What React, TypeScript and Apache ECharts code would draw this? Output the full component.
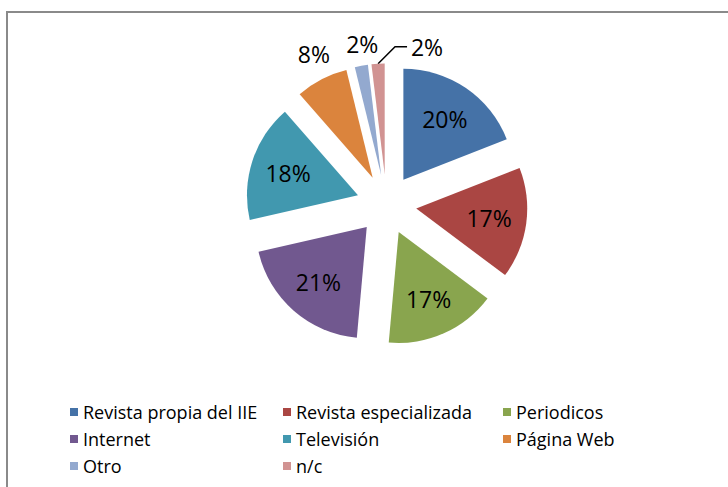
import React, { useEffect, useRef } from "react";
import * as echarts from "echarts";

const categories = [
  "Revista propia del IIE",
  "Revista especializada",
  "Periodicos",
  "Internet",
  "Televisión",
  "Página Web",
  "Otro",
  "n/c",
];
const values = [20, 17, 17, 21, 18, 8, 2, 2];
const colors = ["#4572A7", "#AA4643", "#89A54E", "#71588F", "#4198AF", "#DB843D", "#93A9CF", "#D19392"];
const legendColumns = [
  [0, 3, 6],
  [1, 4, 7],
  [2, 5],
];

// label placement tweaks for the small slices (styling only)
const outsideLabel: Record<number, { length: number; length2: number; distance: number; line: boolean }> = {
  5: { length: 28.5, length2: 0, distance: -21.5, line: false },
  6: { length: 22, length2: 0, distance: -21, line: false },
  7: { length: 17, length2: -30, distance: -36, line: true },
};

const FONT = "Open Sans";

export default function App() {
  const ref = useRef<HTMLDivElement>(null);
  useEffect(() => {
    if (!ref.current) return;
    const chart = echarts.init(ref.current, undefined, { renderer: "svg" });
    const center = [386.5, 204.5];
    const option: any = {
      animation: false,
      backgroundColor: "#fff",
      graphic: [
        {
          type: "rect",
          shape: { x: 7, y: 12, width: 900, height: 700 },
          style: { fill: "none", stroke: "#8a8a8a", lineWidth: 2 },
          silent: true,
        },
      ],
      legend: legendColumns.map((col, k) => ({
        orient: "vertical",
        left: [70, 283, 503][k],
        top: 403,
        padding: 0,
        itemWidth: 8,
        itemHeight: 8,
        itemGap: 9,
        icon: "rect",
        selectedMode: false,
        data: col.map((i) => categories[i]),
        textStyle: { fontFamily: FONT, fontSize: 18, lineHeight: 18, color: "#000" },
      })),
      series: [
        {
          type: "pie",
          center,
          radius: [0, 111],
          startAngle: 90,
          clockwise: true,
          selectedMode: "multiple",
          selectedOffset: 30,
          avoidLabelOverlap: false,
          silent: true,
          emphasis: { disabled: true },
          select: { itemStyle: { borderWidth: 0 } },
          label: { show: false },
          labelLine: { show: false },
          itemStyle: { borderWidth: 0 },
          data: categories.map((name, i) => ({
            name,
            value: values[i],
            selected: true,
            itemStyle: { color: colors[i] },
          })),
        },
        {
          type: "pie",
          center,
          radius: [30, 111],
          startAngle: 90,
          clockwise: true,
          selectedMode: "multiple",
          selectedOffset: 30,
          avoidLabelOverlap: false,
          silent: true,
          emphasis: { disabled: true },
          select: { itemStyle: { borderWidth: 0 } },
          itemStyle: { color: "rgba(0,0,0,0)", borderWidth: 0 },
          label: {
            show: true,
            position: "inside",
            formatter: "{c}%",
            fontFamily: FONT,
            fontSize: 23,
            color: "#000",
            textBorderWidth: 0,
          },
          labelLine: { show: false },
          data: categories.map((name, i) => {
            const o = outsideLabel[i];
            const item: any = { name, value: values[i], selected: true };
            if (o) {
              item.label = { position: "outside", distanceToLabelLine: o.distance };
              item.labelLine = {
                show: o.line,
                length: o.length,
                length2: o.length2,
                minTurnAngle: 135,
                maxSurfaceAngle: 180,
                lineStyle: { color: "#000", width: 1.5 },
              };
            }
            return item;
          }),
        },
      ],
    };
    chart.setOption(option);
    return () => chart.dispose();
  }, []);
  return (
    <div
      ref={ref}
      style={{ position: "fixed", left: 0, top: 0, width: 728, height: 487 }}
    />
  );
}
